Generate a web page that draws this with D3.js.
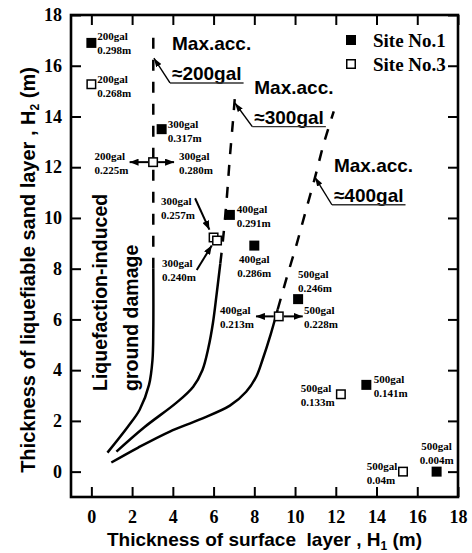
<!DOCTYPE html>
<html><head><meta charset="utf-8">
<script src="https://cdn.jsdelivr.net/npm/d3@7"></script>
<style>body{margin:0;background:#fff}svg{display:block}</style>
</head><body><svg id="c" width="472" height="553"></svg>
<script>
// ---------------- data ----------------
const xTicks=[0,2,4,6,8,10,12,14,16,18];
const yTicks=[0,2,4,6,8,10,12,14,16,18];
const seriesNames=["Site No.1","Site No.3"];
// Site No.1 (filled)
const site1X=[0,3.45,6.8,8.0,10.15,13.5,16.95];
const site1Y=[16.9,13.5,10.12,8.91,6.8,3.42,0];
const site1Labels=[["200gal","0.298m"],["300gal","0.317m"],["400gal","0.291m"],["400gal","0.286m"],["500gal","0.246m"],["500gal","0.141m"],["500gal","0.004m"]];
// Site No.3 (open)
const site3X=[0,3.03,6.0,6.17,9.2,12.25,15.3];
const site3Y=[15.27,12.2,9.23,9.11,6.12,3.05,0];
const site3Labels=[["200gal","0.268m"],["200gal","0.225m"],["300gal","0.257m"],["300gal","0.240m"],["400gal","0.213m"],["500gal","0.133m"],["500gal","0.04m"]];
const site3ExtraLabels=[["300gal","0.280m"],["500gal","0.228m"]]; // right-hand labels at points 1 and 4
// boundary curves (H1, H2)
const curve200Solid=[[0.79,0.75],[1.8,1.78],[2.37,2.44],[2.83,3.42],[3.0,4.4],[3.04,5.6],[3.04,8.0]];
const curve200Dashed=[[3.04,8.0],[3.04,17.2]];
const curve300Solid=[[1.23,0.79],[2.6,1.75],[4.18,2.72],[5.0,3.35],[5.45,4.0],[5.75,4.9],[5.97,5.87],[6.15,7.0],[6.33,8.2]];
const curve300Dashed=[[6.33,8.2],[6.47,9.2],[6.65,10.8],[6.8,12.4],[6.95,13.8],[7.05,14.8]];
const curve400Solid=[[0.98,0.36],[2.3,0.95],[3.85,1.58],[5.3,2.05],[6.8,2.6],[7.6,3.15],[8.1,3.75],[8.4,4.4],[8.8,5.4],[9.15,6.4]];
const curve400Dashed=[[9.15,6.4],[9.6,7.67],[10.09,9.0],[10.5,10.2],[10.98,11.6],[11.4,12.9],[11.9,14.2]];
// Max. acc. annotations
const accLabels=["≈200gal","≈300gal","≈400gal"];
const accAnchorX=[3.86,7.9,11.81], accAnchorY=[15.32,13.6,10.52];
const accTipX=[3.07,7.05,10.98], accTipY=[16.3,14.53,11.6];

// ---------------- layout ----------------
const svg=d3.select("#c");
const x=d3.scaleLinear().domain([-1,18]).range([71,458]);
const y=d3.scaleLinear().domain([-1,18]).range([497,15]);
const serif="'Liberation Serif','Times New Roman',serif";
const sans="'Liberation Sans',Arial,sans-serif";

const defs=svg.append("defs");
function mk(id,len,w){
  defs.append("marker").attr("id",id).attr("markerUnits","userSpaceOnUse")
   .attr("viewBox",`0 0 ${len} ${w}`).attr("refX",len).attr("refY",w/2)
   .attr("markerWidth",len).attr("markerHeight",w).attr("orient","auto")
   .append("path").attr("d",`M0,0L${len},${w/2}L0,${w}Z`).attr("fill","#000");
}
mk("ah",9,7); mk("ahs",9,6);

// axes with inner ticks on all four sides
const tk=10;
svg.append("g").attr("transform",`translate(0,${y(-1)})`)
 .call(d3.axisBottom(x).tickValues(xTicks).tickSize(-tk).tickPadding(13).tickFormat(d3.format("d")));
svg.append("g").attr("transform",`translate(0,${y(18)})`)
 .call(d3.axisTop(x).tickValues(xTicks).tickSize(-tk).tickFormat(""));
svg.append("g").attr("transform",`translate(${x(-1)},0)`)
 .call(d3.axisLeft(y).tickValues(yTicks).tickSize(-tk).tickPadding(9).tickFormat(d3.format("d")));
svg.append("g").attr("transform",`translate(${x(18)},0)`)
 .call(d3.axisRight(y).tickValues(yTicks).tickSize(-tk).tickFormat(""));
svg.selectAll(".domain").remove();
svg.selectAll(".tick line").attr("stroke","#000").attr("stroke-width",2);
svg.selectAll(".tick text").attr("font-family",serif).attr("font-weight","bold").attr("font-size",18).attr("fill","#000");
svg.append("rect").attr("x",x(-1)).attr("y",y(18)).attr("width",x(18)-x(-1)).attr("height",y(-1)-y(18))
 .attr("fill","none").attr("stroke","#000").attr("stroke-width",2.6);

// axis titles
const xt=svg.append("text").attr("x",(x(-1)+x(18))/2).attr("y",546).attr("text-anchor","middle")
 .attr("font-family",sans).attr("font-weight","bold").attr("font-size",19);
xt.append("tspan").text("Thickness of surface\u00a0\u00a0layer , H");
xt.append("tspan").attr("font-size",12).attr("dy",4).text("1");
xt.append("tspan").attr("dy",-4).text(" (m)");
const yt=svg.append("text").attr("transform",`translate(35,270) rotate(-90)`).attr("text-anchor","middle")
 .attr("font-family",sans).attr("font-weight","bold").attr("font-size",20);
yt.append("tspan").text("Thickness of liquefiable sand layer , H");
yt.append("tspan").attr("font-size",12).attr("dy",4).text("2");
yt.append("tspan").attr("dy",-4).text(" (m)");

// curves
const line=d3.line().x(d=>x(d[0])).y(d=>y(d[1])).curve(d3.curveCatmullRom.alpha(0.5));
[curve200Solid,curve300Solid,curve400Solid].forEach(c=>svg.append("path").attr("d",line(c)).attr("fill","none").attr("stroke","#000").attr("stroke-width",2.5));
[curve200Dashed,curve300Dashed,curve400Dashed].forEach(c=>svg.append("path").attr("d",line(c)).attr("fill","none").attr("stroke","#000").attr("stroke-width",2.5).attr("stroke-dasharray","11,11"));

// rotated zone text
const zt=svg.append("g").attr("font-family",sans).attr("font-weight","bold").attr("font-size",19.5);
zt.append("text").attr("transform",`translate(${x(0.78)},${y(3.18)}) rotate(-90)`).text("Liquefaction-induced");
zt.append("text").attr("transform",`translate(${x(2.3)},${y(3.18)}) rotate(-90)`).text("ground damage");

// Max. acc. annotations
accLabels.forEach((t,i)=>{
  const ax=x(accAnchorX[i]), ay=y(accAnchorY[i]);
  const g=svg.append("g").attr("font-family",sans).attr("font-weight","bold").attr("font-size",19);
  g.append("text").attr("x",ax+2).attr("y",ay-33).text("Max.acc.");
  const tt=g.append("text").attr("x",ax+2).attr("y",ay-3).text(t);
  const w=tt.node().getComputedTextLength();
  g.append("line").attr("x1",ax).attr("x2",ax+w+4).attr("y1",ay).attr("y2",ay).attr("stroke","#333").attr("stroke-width",1.4);
  g.append("line").attr("x1",ax).attr("y1",ay).attr("x2",x(accTipX[i])).attr("y2",y(accTipY[i]))
   .attr("stroke","#000").attr("stroke-width",1.4).attr("marker-end","url(#ahs)");
});

// point labels
function label(px,py,lines,anchor){
  const t=svg.append("text").attr("font-family",serif).attr("font-weight","bold").attr("font-size",11).attr("text-anchor",anchor);
  lines.forEach((s,k)=>t.append("tspan").attr("x",px).attr("y",py+k*14).text(s));
}
const s1Off=[[6,-2.5,"start"],[6,-1.5,"start"],[7,-1.5,"start"],[0,17.5,"middle"],[0,-21.5,"start"],[7.5,-2,"start"],[0,-22,"middle"]];
const s3Off=[[6,-1.5,"start"],[-58.5,-1.7,"start"],[-52.5,-32.8,"start"],[-55,26.2,"start"],[-58.8,-2.6,"start"],[-40.2,-2.5,"start"],[-36.3,-1.9,"start"]];
site1X.forEach((v,i)=>label(x(v)+s1Off[i][0],y(site1Y[i])+s1Off[i][1],site1Labels[i],s1Off[i][2]));
site3X.forEach((v,i)=>label(x(v)+s3Off[i][0],y(site3Y[i])+s3Off[i][1],site3Labels[i],s3Off[i][2]));
const extraIdx=[1,4], extraOff=[[26,-1.7],[25.2,-2.6]];
extraIdx.forEach((k,j)=>label(x(site3X[k])+extraOff[j][0],y(site3Y[k])+extraOff[j][1],site3ExtraLabels[j],"start"));

// pointer arrows
function arrow(x1,y1,x2,y2){
  svg.append("line").attr("x1",x1).attr("y1",y1).attr("x2",x2).attr("y2",y2)
   .attr("stroke","#000").attr("stroke-width",2).attr("marker-end","url(#ah)");
}
const hArrows=[[1,-23.5,21],[4,-22.8,24]];
hArrows.forEach(a=>{const px=x(site3X[a[0]]),py=y(site3Y[a[0]]);arrow(px-5,py,px+a[1],py);arrow(px+5,py,px+a[2],py);});
const dArrows=[[2,-18.5,-39.2,-4.2,-7.8],[3,-20.3,29.5,-5.3,5]];
dArrows.forEach(a=>{const px=x(site3X[a[0]]),py=y(site3Y[a[0]]);arrow(px+a[1],py+a[2],px+a[3],py+a[4]);});

// markers
const sz=10;
svg.selectAll(".s1").data(site1X).enter().append("rect")
 .attr("x",(d)=>x(d)-sz/2).attr("y",(d,i)=>y(site1Y[i])-sz/2).attr("width",sz).attr("height",sz).attr("fill","#000");
svg.selectAll(".s3").data(site3X).enter().append("rect")
 .attr("x",(d)=>x(d)-sz/2+0.75).attr("y",(d,i)=>y(site3Y[i])-sz/2+0.75).attr("width",sz-1.5).attr("height",sz-1.5)
 .attr("fill","#fff").attr("stroke","#000").attr("stroke-width",1.5);

// legend
const lg=svg.append("g").attr("font-family",serif).attr("font-weight","bold").attr("font-size",19);
seriesNames.forEach((n,i)=>{
  const cy=40+i*24;
  if(i===0) lg.append("rect").attr("x",346).attr("y",cy-5).attr("width",10).attr("height",10).attr("fill","#000");
  else lg.append("rect").attr("x",346.75).attr("y",cy-4.25).attr("width",8.5).attr("height",8.5).attr("fill","#fff").attr("stroke","#000").attr("stroke-width",1.5);
  lg.append("text").attr("x",373).attr("y",cy+7).text(n);
});
</script></body></html>
